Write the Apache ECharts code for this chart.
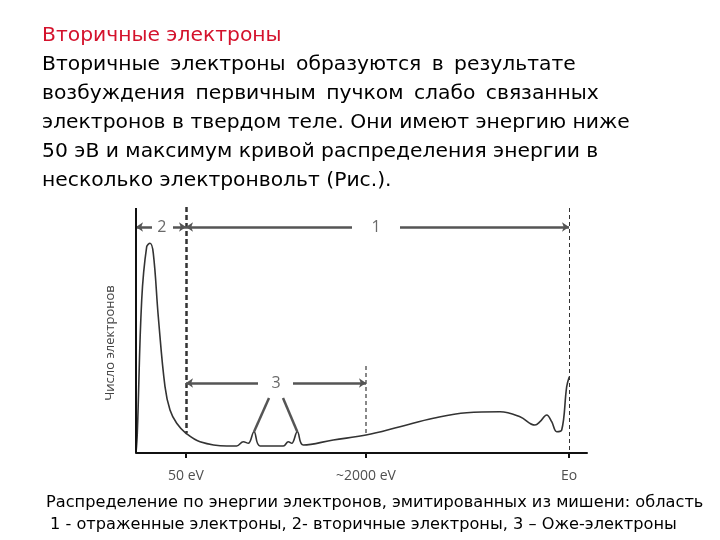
<!DOCTYPE html>
<html><head><meta charset="utf-8">
<script src="https://cdn.jsdelivr.net/npm/echarts@6/dist/echarts.min.js"></script>
<style>
body{margin:0;background:#fff;}
#wrap{position:relative;width:720px;height:540px;overflow:hidden;}
#chart{position:absolute;left:0;top:0;width:720px;height:540px;}
.t{position:absolute;left:42px;font-family:"Comic Sans MS","DejaVu Sans",sans-serif;font-size:20.3px;color:#000;white-space:nowrap;}
.c{position:absolute;font-family:"Comic Sans MS","DejaVu Sans",sans-serif;font-size:16.2px;color:#000;white-space:nowrap;}
</style></head>
<body><div id="wrap">
<div id="chart"></div>
<div class="t" style="top:22px;color:#d4122c">Вторичные электроны</div>
<div class="t" style="top:51px;word-spacing:4px">Вторичные электроны образуются в результате</div>
<div class="t" style="top:80px;word-spacing:4px">возбуждения первичным пучком слабо связанных</div>
<div class="t" style="top:109px">электронов в твердом теле. Они имеют энергию ниже</div>
<div class="t" style="top:138px">50 эВ и максимум кривой распределения энергии в</div>
<div class="t" style="top:167px">несколько электронвольт (Рис.).</div>
<div class="c" style="top:492px;left:46px">Распределение по энергии электронов, эмитированных из мишени: область</div>
<div class="c" style="top:514px;left:50px">1 - отраженные электроны, 2- вторичные электроны, 3 – Оже-электроны</div>
</div>
<script>
// спектр (координаты в единицах оси)
var curveX = [0,1.3,5.7,10.7,14,17.3,22.3,29,34,40.7,50,64,90.7,100.7,107.3,112.3,118,124,147.3,152.3,155.7,161.3,167.3,197.3,230,264,297.3,330.7,364,384,399,404,410.7,415.7,420.7,425.7,430.7,433.3];
var curveY = [0,19.7,153,206.3,209.7,199.7,136.3,66.3,43,29.7,19.7,11.3,7,7,11.3,9.7,21.3,7,7,11.3,9.7,21.3,8,13,18,26.3,34.7,40.3,41.3,36.3,28,31.3,38,31.3,21.3,23,66.3,76.3];
var tickPos = [50,230,433];
var tickNames = ['50 eV','~2000 eV','Eo'];
var regionLabels = [['2',25.7,226],['1',240,226],['3',140,70]];

var myChart = echarts.init(document.getElementById('chart'));
var curve = [];
for (var i = 0; i < curveX.length; i++) curve.push([curveX[i], curveY[i]]);
var ticks = [[{coord:[0,0]},{coord:[0,245]}]];
for (var j = 0; j < tickPos.length; j++) ticks.push([{coord:[tickPos[j],0]},{coord:[tickPos[j],-5]}]);
var tickLbl = [];
for (var k = 0; k < tickPos.length; k++) tickLbl.push({value:[tickPos[k],-23],name:tickNames[k]});

var arrowStyle = {color:'#555',width:2.5,type:'solid'};
var option = {
    animation:false,
    grid:{left:136,top:203,width:451,height:280},
    xAxis:{type:'value',min:0,max:451,axisLine:{onZero:true,lineStyle:{color:'#111',width:2}},axisTick:{show:false},axisLabel:{show:false},splitLine:{show:false}},
    yAxis:{type:'value',min:-30,max:250,name:'Число электронов',nameLocation:'middle',nameGap:19,
        nameTextStyle:{fontFamily:'Open Sans',fontSize:13,color:'#444'},
        axisLine:{show:false},axisTick:{show:false},axisLabel:{show:false},splitLine:{show:false}},
    series:[
        {type:'line',smooth:0.4,data:curve,symbol:'none',lineStyle:{color:'#333',width:1.6},
         markLine:{silent:true,symbol:['none','none'],label:{show:false},data:[
            [{coord:[50,246],lineStyle:{type:[5,3],width:2.5,color:'#333'}},{coord:[50,19.7]}],
            [{coord:[230,87],lineStyle:{type:[4,3],width:2,color:'#888'}},{coord:[230,18]}],
            [{coord:[433,245],lineStyle:{type:[4,3],width:1,color:'#333'}},{coord:[433,0]}]
         ]}},
        {type:'line',data:[],markLine:{silent:true,symbolSize:7,label:{show:false},lineStyle:arrowStyle,data:[
            [{coord:[0,226],symbol:'arrow'},{coord:[16,226],symbol:'none'}],
            [{coord:[37,226],symbol:'none'},{coord:[50,226],symbol:'arrow'}],
            [{coord:[50,226],symbol:'arrow'},{coord:[216,226],symbol:'none'}],
            [{coord:[264,226],symbol:'none'},{coord:[433,226],symbol:'arrow'}],
            [{coord:[50,70],symbol:'arrow'},{coord:[122,70],symbol:'none'}],
            [{coord:[157,70],symbol:'none'},{coord:[230,70],symbol:'arrow'}],
            [{coord:[118,21.3],symbol:'none'},{coord:[133,55],symbol:'none'}],
            [{coord:[147,55],symbol:'none'},{coord:[161.3,21.3],symbol:'none'}]
        ]}},
        {type:'line',data:[],markLine:{silent:true,symbol:['none','none'],label:{show:false},lineStyle:{color:'#111',width:2,type:'solid'},data:ticks}},
        {type:'scatter',symbolSize:0,data:regionLabels.map(function(r){return {value:[r[1],r[2]],name:r[0]};}),
         label:{show:true,position:'inside',formatter:'{b}',fontFamily:'Open Sans',fontSize:16,color:'#444'}},
        {type:'scatter',symbolSize:0,data:tickLbl,
         label:{show:true,position:'inside',formatter:'{b}',fontFamily:'Open Sans',fontSize:14,color:'#222'}}
    ]
};
myChart.setOption(option);
</script>
</body></html>
